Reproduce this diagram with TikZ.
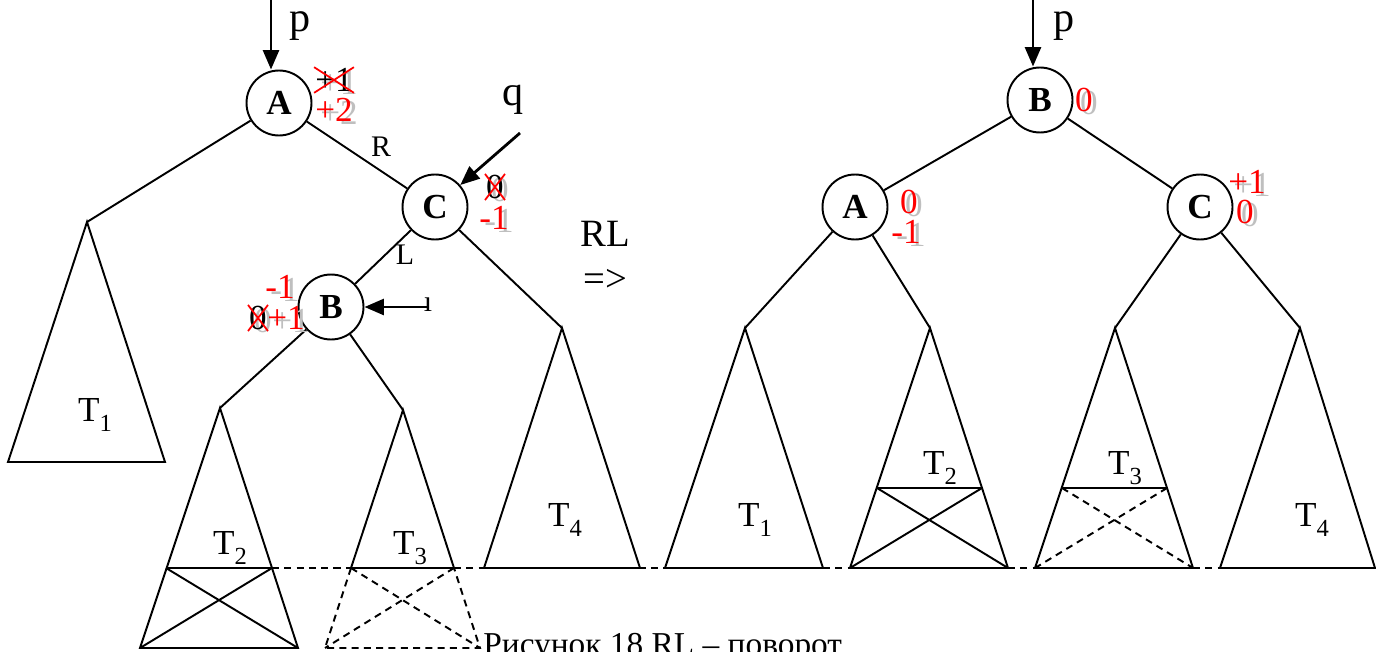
\documentclass[tikz,border=0pt]{standalone}
\usepackage{fontspec}
\setmainfont{Liberation Serif}
\usetikzlibrary{calc,arrows.meta}

\newcommand{\subtr}[1]{T\raisebox{-0.28em}{\fontsize{14}{14}\selectfont #1}}
\newcommand{\balmark}[2]{%
  \node[balgray] at ($(#1)+(5,3)$) {#2};
  \node[balred] at (#1) {#2};}
\newcommand{\balcross}[2]{%
  \node[balgray] at ($(#1)+(5,3)$) {#2};
  \node[balblack] (bx) at (#1) {#2};
  \draw[red, line width=1pt] (bx.north west) -- (bx.south east) (bx.south west) -- (bx.north east);}

\tikzset{
  vertex/.style={draw, circle, line width=1.1pt, minimum size=1.3cm, inner sep=0pt,
    font=\fontsize{20}{20}\selectfont\bfseries},
  edge/.style={line width=1.1pt},
  dashedge/.style={line width=1.1pt, dash pattern=on 4pt off 3pt},
  ptr/.style={line width=1.6pt, -{Triangle[length=11pt,width=9pt]}},
  ptrlbl/.style={font=\fontsize{24}{24}\selectfont},
  sidelbl/.style={font=\fontsize{17}{17}\selectfont, inner sep=0pt},
  treelbl/.style={font=\fontsize{20}{20}\selectfont, inner sep=0pt},
  balred/.style={text=red, font=\fontsize{20}{20}\selectfont, inner sep=0.5pt},
  balgray/.style={text=black!25, font=\fontsize{20}{20}\selectfont, inner sep=0.5pt},
  balblack/.style={text=black, font=\fontsize{20}{20}\selectfont, inner sep=0.5pt},
  bigtxt/.style={font=\fontsize{22}{22}\selectfont}
}

\begin{document}
\begin{tikzpicture}[x=0.02cm,y=-0.02cm]
  \useasboundingbox (0,0) rectangle (1376,652);
  % Left-hand tree
  \node[vertex] (A) at (279,103) {A};
  \node[vertex] (C) at (435,207) {C};
  \node[vertex] (B) at (331,307) {B};
  \coordinate (pL) at (271,0);
  \coordinate (qL) at (520,133);
  \coordinate (rL) at (428,307);
  \coordinate (t1L) at (87,222);
  \coordinate (t2L) at (220,408);
  \coordinate (t3L) at (403,410);
  \coordinate (t4L) at (562,328);
  \draw[ptr] (pL) -- (pL |- A.north);
  \node[ptrlbl] at (300,26) {p};
  \draw[ptr] (qL) -- (C);
  \node[ptrlbl] at (513,100) {q};
  \draw[ptr] (rL) -- (B);
  \node[sidelbl] at (428,305) {ı};
  \draw[edge] (A) -- (t1L);
  \draw[edge] (A) -- (C);
  \node[sidelbl] (lblR) at (381,147) {R};
  \draw[edge] (C) -- (B);
  \node[sidelbl] (lblL) at (405,255) {L};
  \draw[edge] (C) -- (t4L);
  \draw[edge] (B) -- (t2L);
  \draw[edge] (B) -- (t3L);
  % subtrees
  \draw[edge] (t1L) -- (8,462) -- (165,462) -- cycle;
  \node[treelbl] at (95,415) {\subtr{1}};
  \draw[dashedge] (272,568) -- (351,568);
  \draw[dashedge] (454,568) -- (665,568);
  \draw[edge] (t2L) -- (140,648) -- (298,648) -- cycle;
  \draw[edge] (166,568) -- (272,568);
  \draw[edge] (166,568) -- (298,648) (272,568) -- (140,648);
  \node[treelbl] at (230,548) {\subtr{2}};
  \draw[edge] (351,568) -- (t3L) -- (454,568) -- cycle;
  \draw[dashedge] (351,568) -- (325,648) -- (480,648) -- (454,568);
  \draw[dashedge] (351,568) -- (480,648) (454,568) -- (325,648);
  \node[treelbl] at (410,548) {\subtr{3}};
  \draw[edge] (t4L) -- (484,568) -- (640,568) -- cycle;
  \node[treelbl] at (565,520) {\subtr{4}};
  % balance marks
  \balcross{334,80}{+1}
  \balmark{334,110}{+2}
  \balcross{495,187}{0}
  \balmark{494,218}{-1}
  \balmark{280,287}{-1}
  \balcross{258,318}{0}
  \balmark{286,318}{+1}
  % Rotation
  \node[bigtxt] (rot) at (605,234) {RL};
  \node[bigtxt] (impl) at (605,280) {=>};
  % Right-hand tree
  \node[vertex] (B2) at (1040,100) {B};
  \node[vertex] (A2) at (855,207) {A};
  \node[vertex] (C2) at (1200,207) {C};
  \coordinate (pR) at (1033,0);
  \coordinate (t1R) at (745,328);
  \coordinate (t2R) at (930,328);
  \coordinate (t3R) at (1115,328);
  \coordinate (t4R) at (1300,328);
  \draw[ptr] (pR) -- (pR |- B2.north);
  \node[ptrlbl] at (1064,26) {p};
  \draw[edge] (B2) -- (A2);
  \draw[edge] (B2) -- (C2);
  \draw[edge] (A2) -- (t1R);
  \draw[edge] (A2) -- (t2R);
  \draw[edge] (C2) -- (t3R);
  \draw[edge] (C2) -- (t4R);
  \draw[dashedge] (823,568) -- (850,568) (1008,568) -- (1035,568) (1193,568) -- (1220,568);
  \draw[edge] (t1R) -- (665,568) -- (823,568) -- cycle;
  \node[treelbl] at (755,520) {\subtr{1}};
  \draw[edge] (t2R) -- (850,568) -- (1008,568) -- cycle;
  \draw[edge] (877,488) -- (982,488);
  \draw[edge] (877,488) -- (1008,568) (982,488) -- (850,568);
  \node[treelbl] at (940,468) {\subtr{2}};
  \draw[edge] (t3R) -- (1035,568) -- (1193,568) -- cycle;
  \draw[edge] (1062,488) -- (1167,488);
  \draw[dashedge] (1062,488) -- (1193,568) (1167,488) -- (1035,568);
  \node[treelbl] at (1125,468) {\subtr{3}};
  \draw[edge] (t4R) -- (1220,568) -- (1375,568) -- cycle;
  \node[treelbl] at (1312,520) {\subtr{4}};
  \balmark{1084,100}{0}
  \balmark{909,202}{0}
  \balmark{906,232}{-1}
  \balmark{1247,182}{+1}
  \balmark{1245,212}{0}
  % caption
  \node[anchor=base west, inner sep=0pt, font=\fontsize{19}{19}\selectfont] at (483,655) {Рисунок 18 RL – поворот};
\end{tikzpicture}
\end{document}
